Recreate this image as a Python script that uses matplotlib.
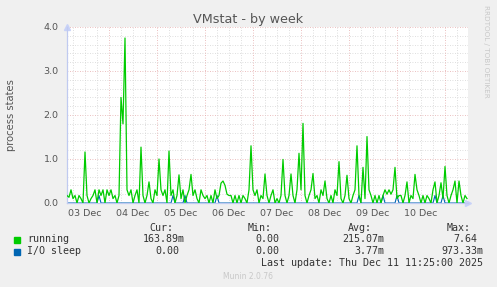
import numpy as np
import matplotlib
matplotlib.use('Agg')
import matplotlib.pyplot as plt

# hourly samples, hour 0 = Dec 3 ~03:25
running = [
    0.17, 0.13, 0.30, 0.10, 0.17, 0.00, 0.17, 0.10, 0.00, 1.16, 0.17, 0.00,
    0.10, 0.17, 0.30, 0.00, 0.30, 0.17, 0.30, 0.00, 0.30, 0.17, 0.30, 0.10,
    0.17, 0.00, 0.17, 2.40, 1.80, 3.75, 0.30, 0.17, 0.30, 0.00, 0.17, 0.30,
    0.00, 1.27, 0.17, 0.00, 0.17, 0.48, 0.10, 0.00, 0.30, 0.17, 1.00, 0.30,
    0.17, 0.30, 0.00, 1.18, 0.17, 0.30, 0.00, 0.17, 0.64, 0.10, 0.30, 0.00,
    0.17, 0.30, 0.65, 0.17, 0.30, 0.10, 0.00, 0.30, 0.17, 0.10, 0.17, 0.00,
    0.17, 0.00, 0.30, 0.10, 0.17, 0.45, 0.50, 0.40, 0.20, 0.17, 0.17, 0.00,
    0.17, 0.00, 0.17, 0.00, 0.17, 0.10, 0.00, 0.30, 1.30, 0.30, 0.17, 0.30,
    0.00, 0.17, 0.10, 0.66, 0.17, 0.00, 0.17, 0.30, 0.00, 0.10, 0.00, 0.17,
    0.99, 0.17, 0.00, 0.17, 0.66, 0.17, 0.00, 0.30, 1.13, 0.30, 1.81, 0.17,
    0.00, 0.17, 0.30, 0.67, 0.10, 0.17, 0.00, 0.30, 0.17, 0.50, 0.10, 0.00,
    0.17, 0.00, 0.30, 0.17, 0.94, 0.10, 0.00, 0.17, 0.63, 0.10, 0.00, 0.17,
    0.30, 1.30, 0.17, 0.00, 0.81, 0.10, 1.51, 0.30, 0.17, 0.00, 0.17, 0.00,
    0.17, 0.00, 0.17, 0.30, 0.20, 0.30, 0.20, 0.30, 0.81, 0.10, 0.17, 0.17,
    0.00, 0.17, 0.48, 0.00, 0.17, 0.10, 0.65, 0.30, 0.17, 0.00, 0.17, 0.00,
    0.17, 0.10, 0.00, 0.30, 0.48, 0.00, 0.17, 0.46, 0.10, 0.83, 0.17, 0.00,
    0.17, 0.30, 0.50, 0.00, 0.50, 0.17, 0.00, 0.17, 0.10,
]
io_hours = [16, 53, 59, 75, 146, 158, 165, 184, 188]
io_values = [0.17, 0.17, 0.17, 0.17, 0.17, 0.17, 0.17, 0.17, 0.17]

day_labels = ['03 Dec', '04 Dec', '05 Dec', '06 Dec', '07 Dec', '08 Dec', '09 Dec', '10 Dec']
label_hours = [9, 33, 57, 81, 105, 129, 153, 177]      # noon of each day
midnight_hours = [21, 45, 69, 93, 117, 141, 165, 189]

legend_names = ['running', 'I/O sleep']
legend_colors = ['#00CC00', '#0066B3']
cur_vals = ['163.89m', '0.00']
min_vals = ['0.00', '0.00']
avg_vals = ['215.07m', '3.77m']
max_vals = ['7.64', '973.33m']

hours = np.arange(len(running))
io_sleep = np.zeros(len(running))
io_sleep[io_hours] = io_values

W, H = 497, 287
fig = plt.figure(figsize=(W / 100, H / 100), dpi=100)
fig.patch.set_facecolor('#F0F0F0')
ax = fig.add_axes([67 / W, 1 - 203 / H, (468 - 67) / W, (203 - 27) / H])
ax.set_facecolor('white')

ax.set_xlim(0, 200.5)
ax.set_ylim(0, 4.0)

grid_gray = '#D4D4D4'
grid_red = '#E4AAAA'
dots = (0, (1, 2))
for y in np.arange(0.2, 4.01, 0.2):
    major = abs(y - round(y)) < 1e-6
    ax.axhline(y, color=grid_red if major else grid_gray, lw=0.6, ls=dots, zorder=1)
for h in range(3, 201, 6):
    ax.axvline(h, color=grid_red if h in midnight_hours else grid_gray, lw=0.6, ls=dots, zorder=1)

ax.plot(hours, running, color='#00CC00', lw=0.9, zorder=3)
ax.plot(hours, io_sleep, color='#0066B3', lw=0.8, zorder=2)

ax.set_yticks([0, 1, 2, 3, 4])
ax.set_yticklabels(['0.0', '1.0', '2.0', '3.0', '4.0'])
ax.set_xticks(label_hours)
ax.set_xticklabels(day_labels)
ax.tick_params(axis='both', length=0, labelsize=6.8, colors='#555555')
ax.tick_params(axis='y', pad=6)
ax.tick_params(axis='x', pad=4)

for s in ['top', 'right']:
    ax.spines[s].set_visible(False)
for s in ['left', 'bottom']:
    ax.spines[s].set_color('#C0CAF0')
    ax.spines[s].set_linewidth(0.9)
ax.plot([1.0], [0], marker='>', transform=ax.transAxes, clip_on=False,
        color='#C8D2F8', ms=4)
ax.plot([0], [1.0], marker='^', transform=ax.transAxes, clip_on=False,
        color='#C8D2F8', ms=4)

ax.set_ylabel('process states', fontsize=7.2, color='#555555', labelpad=20)

fig.text(248 / W, 1 - 19 / H, 'VMstat - by week', ha='center', va='center',
         fontsize=9.2, color='#555555')
fig.text(486 / W, 1 - 5 / H, 'RRDTOOL / TOBI OETIKER', rotation=270, ha='center',
         va='top', fontsize=5.2, color='#C8C8C8')

mono = 'DejaVu Sans Mono'
fs = 7.2
txt = '#333333'
head_y = 1 - 228 / H
for label, x in [('Cur:', 149), ('Min:', 248), ('Avg:', 348), ('Max:', 447)]:
    fig.text(x / W, head_y, label, family=mono, fontsize=fs, color=txt, va='center')

# right edge of each value column (values with an 'm' suffix)
col_right = [185, 285, 384, 483]
rows_y = [239.5, 251.5]
for i, name in enumerate(legend_names):
    y = 1 - rows_y[i] / H
    fig.patches.append(plt.Rectangle((14 / W, y - 3 / H), 6 / W, 6 / H,
                                     transform=fig.transFigure, color=legend_colors[i]))
    fig.text(27 / W, y, name, family=mono, fontsize=fs, color=txt, va='center')
    for val, right in zip([cur_vals[i], min_vals[i], avg_vals[i], max_vals[i]], col_right):
        if not val.endswith('m'):
            right -= 6
        fig.text(right / W, y, val, family=mono, fontsize=fs, color=txt, va='center', ha='right')

fig.text(483 / W, 1 - 263.5 / H, 'Last update: Thu Dec 11 11:25:00 2025', family=mono,
         fontsize=fs, color=txt, va='center', ha='right')
fig.text(248 / W, 1 - 276.5 / H, 'Munin 2.0.76', fontsize=5.5, color='#C8C8C8',
         ha='center', va='center')

fig.savefig('out.png', dpi=100, facecolor=fig.get_facecolor())
